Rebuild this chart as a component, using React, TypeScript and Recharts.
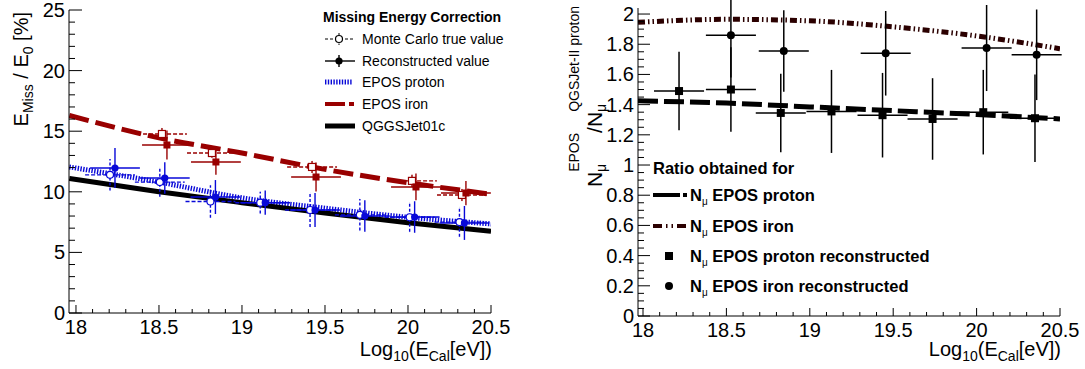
import React from 'react'
import { ComposedChart, Line, Scatter, XAxis, YAxis, ErrorBar } from 'recharts'

const FONT = '"Liberation Sans", Arial, Helvetica, sans-serif'
const BLUE = '#0808d8'
const RED = '#990000'
const DARK = '#2b0000'

// ---------- left panel: missing energy correction ----------
const leftMajorX = [18, 18.5, 19, 19.5, 20, 20.5]
const leftMajorY = [0, 5, 10, 15, 20, 25]

const curveX = [17.96, 18.5, 19.0, 19.5, 20.0, 20.5]
const eposIronCurve = [16.3, 14.45, 13.2, 11.85, 10.75, 9.8]
const eposProtonCurve = [12.05, 10.8, 9.5, 8.65, 7.9, 7.35]
const qgsjetCurve = [11.1, 10.0, 9.1, 8.25, 7.45, 6.75]

const protonRecoX = [18.235, 18.535, 18.84, 19.14, 19.44, 19.74, 20.04, 20.34]
const protonRecoY = [11.96, 11.14, 9.57, 9.1, 8.5, 8.0, 7.92, 7.43]
const protonRecoErr = [1.65, 1.3, 1.4, 1.0, 1.4, 1.3, 1.3, 1.4]
const protonTrueX = [18.205, 18.505, 18.81, 19.11, 19.41, 19.71, 20.01, 20.31]
const protonTrueY = [11.4, 10.8, 9.2, 9.1, 8.5, 8.1, 7.9, 7.5]
const protonTrueErr = [1.3, 1.2, 1.35, 0.9, 1.4, 1.3, 1.2, 1.2]

const ironRecoX = [18.548, 18.843, 19.446, 20.048, 20.349]
const ironRecoY = [13.86, 12.46, 11.22, 10.4, 9.9]
const ironRecoErr = [1.2, 1.05, 1.2, 1.1, 1.0]
const ironTrueX = [18.518, 18.819, 19.422, 20.024, 20.325]
const ironTrueY = [14.77, 13.2, 12.05, 10.9, 9.74]
const ironTrueErr = [0.5, 0.4, 0.5, 0.5, 0.5]

const binHalfWidth = 0.15

// ---------- right panel: muon number ratio ----------
const rightMajorX = [18, 18.5, 19, 19.5, 20, 20.5]
const rightMajorY = [0, 0.2, 0.4, 0.6, 0.8, 1, 1.2, 1.4, 1.6, 1.8, 2]

const ratioCurveX = [17.97, 18.5, 19.0, 19.5, 20.0, 20.5]
const ratioProtonCurve = [1.425, 1.41, 1.385, 1.36, 1.335, 1.305]
const ratioIronCurve = [1.945, 1.965, 1.955, 1.915, 1.855, 1.77]

const ratioProtonX = [18.216, 18.527, 18.826, 19.13, 19.436, 19.736, 20.04, 20.35]
const ratioProtonY = [1.49, 1.5, 1.345, 1.355, 1.33, 1.305, 1.35, 1.31]
const ratioProtonErr = [0.26, 0.28, 0.26, 0.275, 0.28, 0.27, 0.28, 0.29]
const ratioIronX = [18.527, 18.844, 19.455, 20.06, 20.36]
const ratioIronY = [1.86, 1.755, 1.74, 1.775, 1.73]
const ratioIronErr = [0.28, 0.27, 0.28, 0.285, 0.3]

function subdivide(majors: number[], n: number): number[] {
  const out: number[] = []
  for (let i = 0; i < majors.length - 1; i++) {
    for (let k = 0; k < n; k++) {
      out.push(Math.round((majors[i] + ((majors[i + 1] - majors[i]) * k) / n) * 1e6) / 1e6)
    }
  }
  out.push(majors[majors.length - 1])
  return out
}

const isMajor = (v: number, majors: number[]) => majors.some((m) => Math.abs(m - v) < 1e-6)
const fmt = (v: number) => String(Math.round(v * 100) / 100)

const curve = (xs: number[], ys: number[]) => xs.map((x, i) => ({ x, y: ys[i] }))
const points = (xs: number[], ys: number[], errs: number[]) =>
  xs.map((x, i) => ({ x, y: ys[i], ex: binHalfWidth, ey: errs[i] }))

function xTick(majors: number[], big: number, small: number) {
  return (p: any) => {
    const v = p.payload.value
    const major = isMajor(v, majors)
    return (
      <g>
        <line x1={p.x} x2={p.x} y1={p.y} y2={p.y - (major ? big : small)} stroke="#000" strokeWidth={1} />
        {major && (
          <text x={p.x} y={p.y + 21} textAnchor="middle" fontSize={20} fontFamily={FONT} fill="#000">
            {fmt(v)}
          </text>
        )}
      </g>
    )
  }
}

function yTick(majors: number[], big: number, small: number) {
  return (p: any) => {
    const v = p.payload.value
    const major = isMajor(v, majors)
    return (
      <g>
        <line x1={p.x} x2={p.x + (major ? big : small)} y1={p.y} y2={p.y} stroke="#000" strokeWidth={1} />
        {major && (
          <text x={p.x - 4} y={p.y + 7} textAnchor="end" fontSize={20} fontFamily={FONT} fill="#000">
            {fmt(v)}
          </text>
        )}
      </g>
    )
  }
}

const filledCircle = (color: string, r: number) => (p: any) => (
  <circle cx={p.cx} cy={p.cy} r={r} fill={color} />
)
const openCircle = (color: string, r: number) => (p: any) => (
  <circle cx={p.cx} cy={p.cy} r={r} fill="#fff" stroke={color} strokeWidth={1.2} />
)
const filledSquare = (color: string, s: number) => (p: any) => (
  <rect x={p.cx - s / 2} y={p.cy - s / 2} width={s} height={s} fill={color} />
)
const openSquare = (color: string, s: number) => (p: any) => (
  <rect x={p.cx - s / 2} y={p.cy - s / 2} width={s} height={s} fill="#fff" stroke={color} strokeWidth={1.2} />
)

function LeftPanel() {
  return (
    <ComposedChart width={540} height={369} margin={{ top: 10, right: 49, bottom: 0, left: 0 }}>
      <XAxis
        type="number"
        dataKey="x"
        domain={[17.958, 20.5]}
        allowDataOverflow
        ticks={subdivide(leftMajorX, 5)}
        interval={0}
        height={56}
        tickSize={0}
        tickMargin={0}
        tick={xTick(leftMajorX, 8, 4)}
        axisLine={{ stroke: '#000' }}
      />
      <YAxis
        type="number"
        dataKey="y"
        domain={[0, 25]}
        allowDataOverflow
        ticks={subdivide(leftMajorY, 5)}
        interval={0}
        width={69}
        tickSize={0}
        tickMargin={0}
        tick={yTick(leftMajorY, 13, 6)}
        axisLine={{ stroke: '#000' }}
      />
      <Line data={curve(curveX, eposProtonCurve)} dataKey="y" type="monotone" stroke={BLUE} strokeWidth={5} strokeDasharray="1.4 1.4" dot={false} activeDot={false} isAnimationActive={false} />
      <Line data={curve(curveX, qgsjetCurve)} dataKey="y" type="monotone" stroke="#000" strokeWidth={5} dot={false} activeDot={false} isAnimationActive={false} />
      <Line data={curve(curveX, eposIronCurve)} dataKey="y" type="monotone" stroke={RED} strokeWidth={5} strokeDasharray="20 7" dot={false} activeDot={false} isAnimationActive={false} />

      <Scatter data={points(protonTrueX, protonTrueY, protonTrueErr)} shape={openCircle(BLUE, 3.5)} isAnimationActive={false}>
        <ErrorBar dataKey="ex" direction="x" width={0} stroke={BLUE} strokeWidth={1.4} strokeDasharray="4 2" isAnimationActive={false} />
        <ErrorBar dataKey="ey" direction="y" width={0} stroke={BLUE} strokeWidth={1.4} strokeDasharray="3 2" isAnimationActive={false} />
      </Scatter>
      <Scatter data={points(protonRecoX, protonRecoY, protonRecoErr)} shape={filledCircle(BLUE, 3.6)} isAnimationActive={false}>
        <ErrorBar dataKey="ex" direction="x" width={0} stroke={BLUE} strokeWidth={1.4} isAnimationActive={false} />
        <ErrorBar dataKey="ey" direction="y" width={0} stroke={BLUE} strokeWidth={1.4} isAnimationActive={false} />
      </Scatter>
      <Scatter data={points(ironTrueX, ironTrueY, ironTrueErr)} shape={openSquare(RED, 7)} isAnimationActive={false}>
        <ErrorBar dataKey="ex" direction="x" width={0} stroke={RED} strokeWidth={1.4} strokeDasharray="4 2" isAnimationActive={false} />
        <ErrorBar dataKey="ey" direction="y" width={0} stroke={RED} strokeWidth={1.4} strokeDasharray="3 2" isAnimationActive={false} />
      </Scatter>
      <Scatter data={points(ironRecoX, ironRecoY, ironRecoErr)} shape={filledSquare(RED, 7)} isAnimationActive={false}>
        <ErrorBar dataKey="ex" direction="x" width={0} stroke={RED} strokeWidth={1.4} isAnimationActive={false} />
        <ErrorBar dataKey="ey" direction="y" width={0} stroke={RED} strokeWidth={1.4} isAnimationActive={false} />
      </Scatter>
    </ComposedChart>
  )
}

function RightPanel() {
  return (
    <ComposedChart width={545} height={369} margin={{ top: 8, right: 25, bottom: 0, left: 0 }}>
      <XAxis
        type="number"
        dataKey="x"
        domain={[17.97, 20.5]}
        allowDataOverflow
        ticks={subdivide(rightMajorX, 5)}
        interval={0}
        height={53}
        tickSize={0}
        tickMargin={0}
        tick={xTick(rightMajorX, 8, 4)}
        axisLine={{ stroke: '#000' }}
      />
      <YAxis
        type="number"
        dataKey="y"
        domain={[0, 2.04]}
        allowDataOverflow
        ticks={subdivide(rightMajorY, 4)}
        interval={0}
        width={98}
        tickSize={0}
        tickMargin={0}
        tick={yTick(rightMajorY, 12, 6)}
        axisLine={{ stroke: '#000' }}
      />
      <Line data={curve(ratioCurveX, ratioProtonCurve)} dataKey="y" type="monotone" stroke="#000" strokeWidth={5} strokeDasharray="20 6" dot={false} activeDot={false} isAnimationActive={false} />
      <Line data={curve(ratioCurveX, ratioIronCurve)} dataKey="y" type="monotone" stroke={DARK} strokeWidth={5} strokeDasharray="7 3 1.5 3 1.5 3" dot={false} activeDot={false} isAnimationActive={false} />

      <Scatter data={points(ratioProtonX, ratioProtonY, ratioProtonErr)} shape={filledSquare('#000', 8)} isAnimationActive={false}>
        <ErrorBar dataKey="ex" direction="x" width={0} stroke="#000" strokeWidth={1.5} isAnimationActive={false} />
        <ErrorBar dataKey="ey" direction="y" width={0} stroke="#000" strokeWidth={1.5} isAnimationActive={false} />
      </Scatter>
      <Scatter data={points(ratioIronX, ratioIronY, ratioIronErr)} shape={filledCircle('#000', 4)} isAnimationActive={false}>
        <ErrorBar dataKey="ex" direction="x" width={0} stroke="#000" strokeWidth={1.5} isAnimationActive={false} />
        <ErrorBar dataKey="ey" direction="y" width={0} stroke="#000" strokeWidth={1.5} isAnimationActive={false} />
      </Scatter>
    </ComposedChart>
  )
}

function Overlay() {
  const t = { fontFamily: FONT, fill: '#000' }
  const leftRows = [39, 61, 82, 104, 126]
  const rightRows = [195, 226, 256, 286]
  const leftLabels = ['Monte Carlo true value', 'Reconstructed value', 'EPOS proton', 'EPOS iron', 'QGGSJet01c']
  const rightLabels = [' EPOS proton', ' EPOS iron', ' EPOS proton reconstructed', ' EPOS iron reconstructed']
  return (
    <svg width={1085} height={369} style={{ position: 'absolute', left: 0, top: 0, pointerEvents: 'none' }}>
      {/* axis titles */}
      <g transform="translate(28, 12) rotate(-90)">
        <text x={0} y={0} textAnchor="end" fontSize={20} {...t}>
          E<tspan fontSize={14} dy={5}>Miss</tspan>
          <tspan dy={-5}> / E</tspan>
          <tspan fontSize={14} dy={5}>0</tspan>
          <tspan dy={-5}> [%]</tspan>
        </text>
      </g>
      <text x={492} y={356} textAnchor="end" fontSize={20} {...t}>
        Log<tspan fontSize={14} dy={5}>10</tspan>
        <tspan dy={-5}>(E</tspan>
        <tspan fontSize={14} dy={5}>Cal</tspan>
        <tspan dy={-5}>[eV])</tspan>
      </text>
      <text x={1061} y={356} textAnchor="end" fontSize={20} {...t}>
        Log<tspan fontSize={14} dy={5}>10</tspan>
        <tspan dy={-5}>(E</tspan>
        <tspan fontSize={14} dy={5}>Cal</tspan>
        <tspan dy={-5}>[eV])</tspan>
      </text>
      <g transform="translate(602, 6) rotate(-90)">
        <text x={0} y={0} textAnchor="end" fontSize={21} {...t}>
          N<tspan fontSize={14} dy={4}>μ</tspan>
          <tspan fontSize={14} dx={-8} dy={-27}>EPOS</tspan>
          <tspan dy={23}>/N</tspan>
          <tspan fontSize={14} dy={4}>μ</tspan>
          <tspan fontSize={14} dx={-8} dy={-27}>QGSJet-II proton</tspan>
        </text>
      </g>

      {/* left legend */}
      <text x={323} y={22} fontSize={14} fontWeight="bold" {...t}>Missing Energy Correction</text>
      <line x1={325} x2={353} y1={leftRows[0]} y2={leftRows[0]} stroke="#000" strokeDasharray="3 2" />
      <line x1={339} x2={339} y1={leftRows[0] - 6} y2={leftRows[0] + 6} stroke="#000" strokeDasharray="2 1.5" />
      <circle cx={339} cy={leftRows[0]} r={3.5} fill="#fff" stroke="#000" strokeWidth={1.2} />
      <line x1={325} x2={355} y1={leftRows[1]} y2={leftRows[1]} stroke="#000" strokeWidth={1.4} />
      <line x1={339} x2={339} y1={leftRows[1] - 6} y2={leftRows[1] + 6} stroke="#000" strokeWidth={1.4} />
      <circle cx={339} cy={leftRows[1]} r={3.6} fill="#000" />
      <line x1={325} x2={353} y1={leftRows[2]} y2={leftRows[2]} stroke={BLUE} strokeWidth={5} strokeDasharray="1.4 1.4" />
      <line x1={325} x2={345} y1={leftRows[3]} y2={leftRows[3]} stroke={RED} strokeWidth={4} />
      <line x1={349} x2={354} y1={leftRows[3]} y2={leftRows[3]} stroke={RED} strokeWidth={4} />
      <line x1={325} x2={355} y1={leftRows[4]} y2={leftRows[4]} stroke="#000" strokeWidth={5} />
      {leftLabels.map((s, i) => (
        <text key={s} x={362} y={leftRows[i] + 5} fontSize={14} {...t}>{s}</text>
      ))}

      {/* right legend */}
      <text x={653} y={174} fontSize={16.5} fontWeight="bold" {...t}>Ratio obtained for</text>
      <line x1={653} x2={680} y1={rightRows[0]} y2={rightRows[0]} stroke="#000" strokeWidth={4} />
      <line x1={683} x2={687} y1={rightRows[0]} y2={rightRows[0]} stroke="#000" strokeWidth={4} />
      <line x1={653} x2={688} y1={rightRows[1]} y2={rightRows[1]} stroke={DARK} strokeWidth={4} strokeDasharray="9 4 1.5 4 1.5 4" />
      <rect x={665} y={rightRows[2] - 4} width={8} height={8} fill="#000" />
      <circle cx={669} cy={rightRows[3]} r={4} fill="#000" />
      {rightLabels.map((s, i) => (
        <text key={s} x={690} y={rightRows[i] + 6} fontSize={16.5} fontWeight="bold" {...t}>
          N<tspan fontSize={10} fontWeight="normal" dy={4}>μ</tspan>
          <tspan dy={-4}>{s}</tspan>
        </text>
      ))}
    </svg>
  )
}

export default function App() {
  return (
    <div style={{ position: 'absolute', left: 0, top: 0, width: 1085, height: 369, background: '#fff' }}>
      <div style={{ position: 'absolute', left: 0, top: 0 }}>
        <LeftPanel />
      </div>
      <div style={{ position: 'absolute', left: 540, top: 0 }}>
        <RightPanel />
      </div>
      <Overlay />
    </div>
  )
}
